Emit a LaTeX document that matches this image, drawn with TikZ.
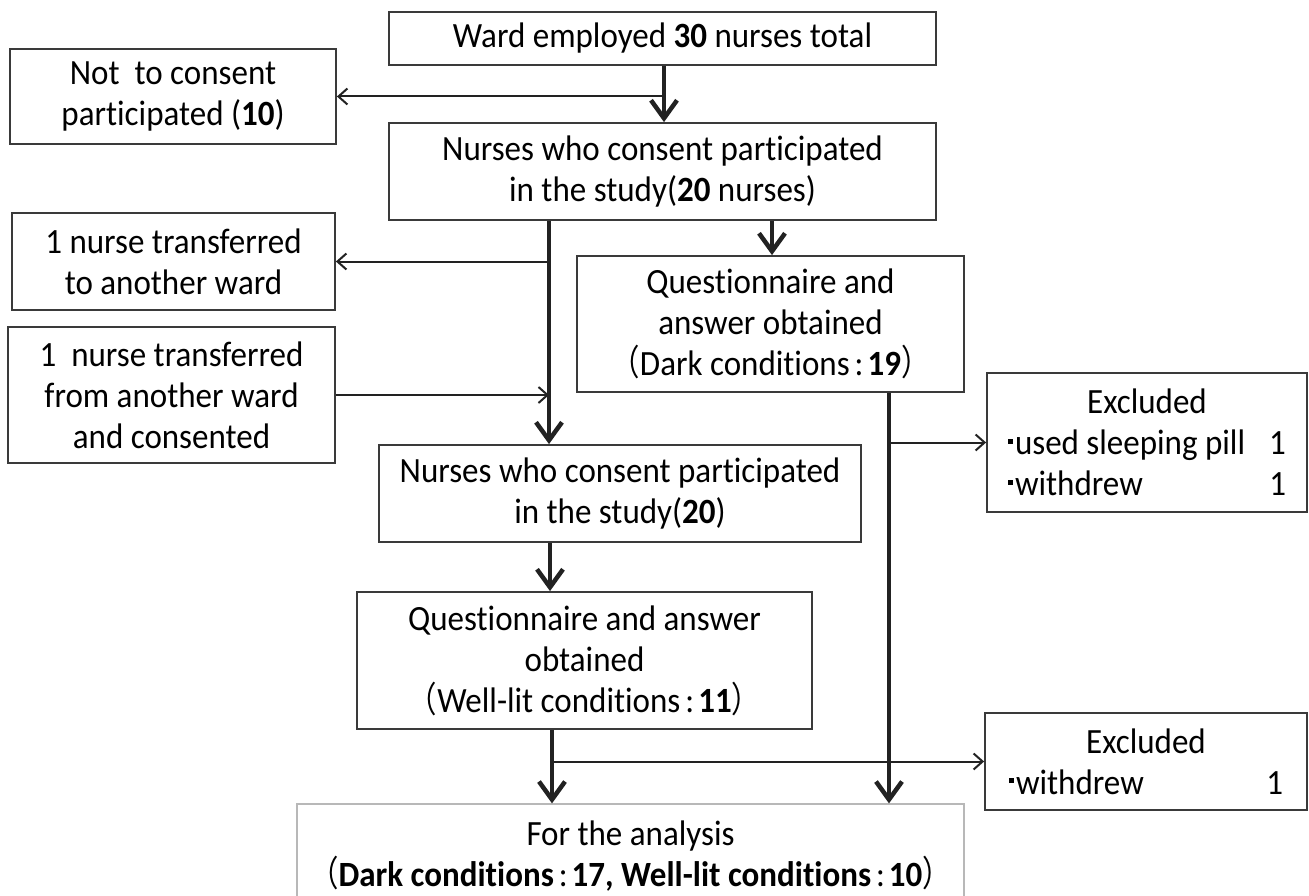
\documentclass[tikz,border=0pt]{standalone}
\usepackage{fontspec}
\setmainfont{Carlito}[FakeStretch=0.93,Ligatures=NoCommon]
\newfontfamily\cjkfont{Noto Sans CJK SC}[FakeStretch=0.8]
\usetikzlibrary{arrows.meta}
\newcommand{\flp}{{\cjkfont\mdseries （}}
\newcommand{\frp}{{\cjkfont\mdseries ）}}
\newcommand{\fcol}{\hspace{5pt}{\mdseries :}\hspace{4pt}}
\newcommand{\sqb}{\rule[11pt]{5pt}{5pt}\hspace{2pt}}
\definecolor{boxcol}{HTML}{3A3A3A}
\definecolor{arrcol}{HTML}{222222}
\definecolor{ancol}{HTML}{B8B8B8}
\begin{document}
\begin{tikzpicture}[x=1pt,y=-1pt,
  box/.style={draw=boxcol, line width=1.8pt, inner sep=0pt, align=center,
    font=\fontsize{35.5}{41}\selectfont},
  thickarr/.style={draw=arrcol, line width=4.5pt,
    -{Straight Barb[length=18pt,width=26pt]}},
  thinarr/.style={draw=arrcol, line width=2pt,
    -{Straight Barb[length=9pt,width=16pt]}}]
\useasboundingbox (0,0) rectangle (1309,896);
% boxes
\node[box, minimum width=547pt, minimum height=53pt] (A) at (662.5,38.5)
  {Ward employed \textbf{30} nurses total};
\node[box, minimum width=326pt, minimum height=95pt] (NC) at (173,96.5)
  {Not\ \ to consent\\participated (\textbf{10})};
\node[box, minimum width=547pt, minimum height=97pt] (B) at (662.5,171.5)
  {Nurses who consent participated\\in the study(\textbf{20} nurses)};
\node[box, minimum width=323pt, minimum height=97pt] (TT) at (173.5,261.5)
  {1 nurse transferred\\to another ward};
\node[box, minimum width=327pt, minimum height=136pt] (TF) at (171.5,395)
  {1\ \ nurse transferred\\from another ward\\and consented};
\node[box, minimum width=387pt, minimum height=136pt] (QD) at (770.5,324)
  {Questionnaire and\\answer obtained\\\flp Dark conditions\fcol\textbf{19}\frp};
\node[box, minimum width=320pt, minimum height=139pt] (E1) at (1147,442.5)
  {Excluded\\\makebox[278pt]{\sqb used sleeping pill\hfill 1}\\\makebox[278pt]{\sqb withdrew\hfill 1}};
\node[box, minimum width=482pt, minimum height=97pt] (N20) at (620,493.5)
  {Nurses who consent participated\\in the study(\textbf{20})};
\node[box, minimum width=455pt, minimum height=137pt] (QW) at (584.5,660.5)
  {Questionnaire and answer\\obtained\\\flp Well-lit conditions\fcol\textbf{11}\frp};
\node[box, minimum width=322pt, minimum height=97pt] (E2) at (1146,761.5)
  {Excluded\\\makebox[274pt]{\sqb withdrew\hfill 1}};
\node[box, draw=ancol, line width=1.2pt, minimum width=667pt, minimum height=104pt] (AN) at (630.5,856)
  {For the analysis\\\flp\textbf{Dark conditions\fcol 17, Well-lit conditions\fcol 10}\frp};
% columns of the vertical connectors
\coordinate (c1) at (664,0);
\coordinate (c2) at (549,0);
\coordinate (c3) at (772,0);
\coordinate (c4) at (889,0);
\coordinate (c5) at (550,0);
\coordinate (c6) at (552,0);
% side branches
\draw[thinarr] (NC.east -| c1) -- (NC.east);
\draw[thinarr] (TT.east -| c2) -- (TT.east);
\draw[thinarr] (TF.east) -- (TF.east -| c2);
\draw[thinarr] (E1.west -| c4) -- (E1.west);
\draw[thinarr] (E2.west -| c6) -- (E2.west);
% main flow
\draw[thickarr] (A.south -| c1) -- (B.north -| c1);
\draw[thickarr] (B.south -| c2) -- (N20.north -| c2);
\draw[thickarr] (B.south -| c3) -- (QD.north -| c3);
\draw[thickarr] (QD.south -| c4) -- (AN.north -| c4);
\draw[thickarr] (N20.south -| c5) -- (QW.north -| c5);
\draw[thickarr] (QW.south -| c6) -- (AN.north -| c6);
\end{tikzpicture}
\end{document}
